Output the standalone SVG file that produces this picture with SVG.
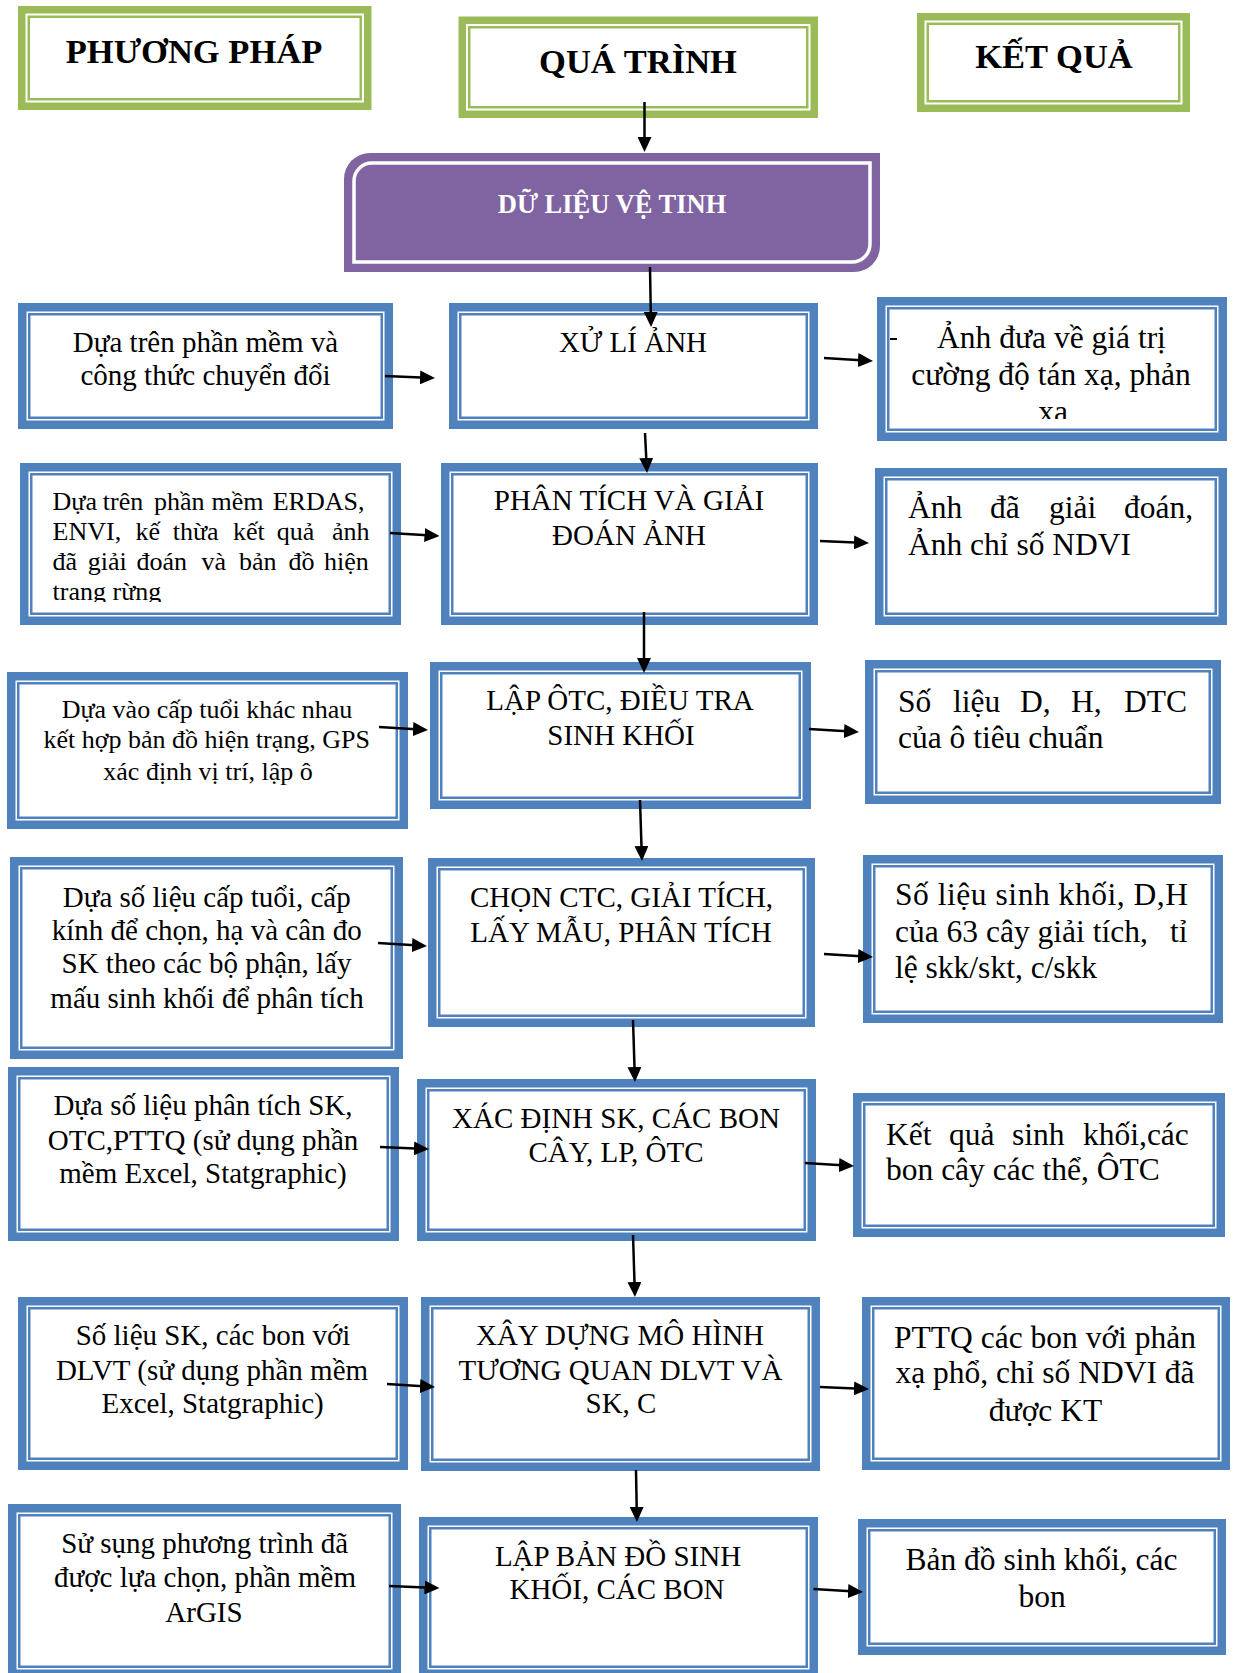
<svg xmlns="http://www.w3.org/2000/svg" width="1234" height="1673" viewBox="0 0 1234 1673">
<style>
.bo{fill:#fff;stroke:#4F81BD;stroke-width:8.5}
.bi{fill:none;stroke:#4F81BD;stroke-width:2.5}
.go{fill:#fff;stroke:#9BBB59;stroke-width:7.5}
.gi{fill:none;stroke:#9BBB59;stroke-width:2.5}
text{font-family:"Liberation Serif","Times New Roman",serif;fill:#000}
.m{font-size:29px;text-anchor:middle}
.s{font-size:26px}
.sc{font-size:26px;text-anchor:middle}
.r{font-size:31.5px}
.rc{font-size:31.5px;text-anchor:middle}
.h{font-size:34.5px;font-weight:bold;text-anchor:middle}
.p{font-size:26.5px;font-weight:bold;text-anchor:middle;fill:#fff}
.c{fill:none;stroke:#000;stroke-width:2.5;marker-end:url(#ah)}
</style>
<defs>
<marker id="ah" markerUnits="userSpaceOnUse" markerWidth="15" markerHeight="14" viewBox="0 0 15 14" refX="7" refY="7" orient="auto">
<path d="M0,0 L15,7 L0,14 Z" fill="#000"/>
</marker>
<clipPath id="c1"><rect x="877" y="297" width="350" height="122"/></clipPath>
<clipPath id="c2"><rect x="20" y="463" width="381" height="139"/></clipPath>
</defs>
<rect width="1234" height="1673" fill="#fff"/>

<!-- Headers -->
<g id="hdr-phuongphap">
<rect class="go" x="21.75" y="9.75" width="346" height="96.5"/>
<rect class="gi" x="28.75" y="16.75" width="332" height="82.5"/>
<text class="h" x="194" y="63">PHƯƠNG PHÁP</text>
</g>
<g id="hdr-quatrinh">
<rect class="go" x="462.25" y="20.25" width="352" height="94"/>
<rect class="gi" x="469.25" y="27.25" width="338" height="80"/>
<text class="h" x="638" y="73">QUÁ TRÌNH</text>
</g>
<g id="hdr-ketqua">
<rect class="go" x="920.75" y="16.75" width="265.5" height="91.5"/>
<rect class="gi" x="927.75" y="23.75" width="251.5" height="77.5"/>
<text class="h" x="1054" y="68">KẾT QUẢ</text>
</g>

<!-- Satellite data -->
<g id="dulieu">
<path d="M370,153 H880 V246 A26,26 0 0 1 854,272 H344 V179 A26,26 0 0 1 370,153 Z" fill="#8064A2"/>
<path d="M373,163 H870 V244 A18,18 0 0 1 852,262 H354 V181 A18,18 0 0 1 373,163 Z" fill="none" stroke="#fff" stroke-width="3.5"/>
<text class="p" x="612" y="213">DỮ LIỆU VỆ TINH</text>
</g>

<!-- Row 1 -->
<g id="r1-left">
<rect class="bo" x="22.25" y="307.25" width="366.5" height="117.5"/>
<rect class="bi" x="29.25" y="314.25" width="352.5" height="103.5"/>
<text class="m" x="205.5" y="352">Dựa trên phần mềm và</text>
<text class="m" x="205.5" y="385">công thức chuyển đổi</text>
</g>
<g id="r1-mid">
<rect class="bo" x="453.25" y="307.25" width="360.5" height="117.5"/>
<rect class="bi" x="460.25" y="314.25" width="346.5" height="103.5"/>
<text class="m" x="633" y="352">XỬ LÍ ẢNH</text>
</g>
<g id="r1-right">
<rect class="bo" x="881.25" y="301.25" width="341.5" height="135.5"/>
<rect class="bi" x="888.25" y="308.25" width="327.5" height="121.5"/>
<line x1="890" y1="339" x2="897" y2="339" stroke="#000" stroke-width="2"/>
<g clip-path="url(#c1)">
<text class="rc" x="1051.5" y="348">Ảnh đưa về giá trị</text>
<text class="rc" x="1051" y="385">cường độ tán xạ, phản</text>
<text class="rc" x="1053" y="422">xạ</text>
</g>
</g>

<!-- Row 2 -->
<g id="r2-left">
<rect class="bo" x="24.25" y="467.25" width="372.5" height="153.5"/>
<rect class="bi" x="31.25" y="474.25" width="358.5" height="139.5"/>
<g clip-path="url(#c2)">
<text class="s" y="510"><tspan x="52.6">Dựa</tspan><tspan x="102.8">trên</tspan><tspan x="154">phần</tspan><tspan x="211.5">mềm</tspan><tspan x="272.7">ERDAS,</tspan></text>
<text class="s" y="540"><tspan x="52.6">ENVI,</tspan><tspan x="135.6">kế</tspan><tspan x="172.7">thừa</tspan><tspan x="233">kết</tspan><tspan x="276.7">quả</tspan><tspan x="332">ảnh</tspan></text>
<text class="s" y="570"><tspan x="52.6">đã</tspan><tspan x="87.7">giải</tspan><tspan x="136.4">đoán</tspan><tspan x="201.6">và</tspan><tspan x="239">bản</tspan><tspan x="288.5">đồ</tspan><tspan x="324">hiện</tspan></text>
<text class="s" x="52.6" y="600">trang rừng</text>
</g>
</g>
<g id="r2-mid">
<rect class="bo" x="445.25" y="467.25" width="368.5" height="153.5"/>
<rect class="bi" x="452.25" y="474.25" width="354.5" height="139.5"/>
<text class="m" x="629" y="510">PHÂN TÍCH VÀ GIẢI</text>
<text class="m" x="629" y="545">ĐOÁN ẢNH</text>
</g>
<g id="r2-right">
<rect class="bo" x="879.25" y="472.25" width="343.5" height="148.5"/>
<rect class="bi" x="886.25" y="479.25" width="329.5" height="134.5"/>
<text class="r" y="518"><tspan x="908">Ảnh</tspan><tspan x="990">đã</tspan><tspan x="1049">giải</tspan><tspan x="1124">đoán,</tspan></text>
<text class="r" x="908" y="555">Ảnh chỉ số NDVI</text>
</g>

<!-- Row 3 -->
<g id="r3-left">
<rect class="bo" x="11.25" y="676.25" width="392.5" height="148.5"/>
<rect class="bi" x="18.25" y="683.25" width="378.5" height="134.5"/>
<text class="sc" x="207" y="718">Dựa vào cấp tuổi khác nhau</text>
<text class="sc" x="206.7" y="748">kết hợp bản đồ hiện trạng, GPS</text>
<text class="sc" x="208" y="780">xác định vị trí, lập ô</text>
</g>
<g id="r3-mid">
<rect class="bo" x="434.25" y="666.25" width="372.5" height="138.5"/>
<rect class="bi" x="441.25" y="673.25" width="358.5" height="124.5"/>
<text class="m" x="620" y="710">LẬP ÔTC, ĐIỀU TRA</text>
<text class="m" x="621" y="745">SINH KHỐI</text>
</g>
<g id="r3-right">
<rect class="bo" x="869.25" y="664.25" width="347.5" height="135.5"/>
<rect class="bi" x="876.25" y="671.25" width="333.5" height="121.5"/>
<text class="r" y="712"><tspan x="898">Số</tspan><tspan x="953">liệu</tspan><tspan x="1020">D,</tspan><tspan x="1071">H,</tspan><tspan x="1124">DTC</tspan></text>
<text class="r" x="898" y="748">của ô tiêu chuẩn</text>
</g>

<!-- Row 4 -->
<g id="r4-left">
<rect class="bo" x="14.25" y="861.25" width="384.5" height="193.5"/>
<rect class="bi" x="21.25" y="868.25" width="370.5" height="179.5"/>
<text class="m" x="206.7" y="907">Dựa số liệu cấp tuổi, cấp</text>
<text class="m" x="206.8" y="940">kính để chọn, hạ và cân đo</text>
<text class="m" x="206.5" y="973">SK theo các bộ phận, lấy</text>
<text class="m" x="207" y="1008">mấu sinh khối để phân tích</text>
</g>
<g id="r4-mid">
<rect class="bo" x="432.25" y="862.25" width="378.5" height="160.5"/>
<rect class="bi" x="439.25" y="869.25" width="364.5" height="146.5"/>
<text class="m" x="621.5" y="907">CHỌN CTC, GIẢI TÍCH,</text>
<text class="m" x="621" y="942">LẤY MẪU, PHÂN TÍCH</text>
</g>
<g id="r4-right">
<rect class="bo" x="867.25" y="859.25" width="351.5" height="159.5"/>
<rect class="bi" x="874.25" y="866.25" width="337.5" height="145.5"/>
<text class="r" x="895" y="905" textLength="293" lengthAdjust="spacing">Số liệu sinh khối, D,H</text>
<text class="r" y="942"><tspan x="895">của 63 cây giải tích,</tspan><tspan x="1170">tỉ</tspan></text>
<text class="r" x="895" y="978">lệ skk/skt, c/skk</text>
</g>

<!-- Row 5 -->
<g id="r5-left">
<rect class="bo" x="12.25" y="1071.25" width="382.5" height="165.5"/>
<rect class="bi" x="19.25" y="1078.25" width="368.5" height="151.5"/>
<text class="m" x="203" y="1115">Dựa số liệu phân tích SK,</text>
<text class="m" x="203" y="1150">OTC,PTTQ (sử dụng phần</text>
<text class="m" x="203" y="1183">mềm Excel, Statgraphic)</text>
</g>
<g id="r5-mid">
<rect class="bo" x="421.25" y="1083.25" width="390.5" height="153.5"/>
<rect class="bi" x="428.25" y="1090.25" width="376.5" height="139.5"/>
<text class="m" x="616" y="1128">XÁC ĐỊNH SK, CÁC BON</text>
<text class="m" x="616" y="1162">CÂY, LP, ÔTC</text>
</g>
<g id="r5-right">
<rect class="bo" x="857.25" y="1097.25" width="363.5" height="135.5"/>
<rect class="bi" x="864.25" y="1104.25" width="349.5" height="121.5"/>
<text class="r" y="1145"><tspan x="886">Kết</tspan><tspan x="949">quả</tspan><tspan x="1012">sinh</tspan><tspan x="1083">khối,các</tspan></text>
<text class="r" x="886" y="1180">bon cây các thể, ÔTC</text>
</g>

<!-- Row 6 -->
<g id="r6-left">
<rect class="bo" x="22.25" y="1301.25" width="381.5" height="164.5"/>
<rect class="bi" x="29.25" y="1308.25" width="367.5" height="150.5"/>
<text class="m" x="213" y="1345">Số liệu SK, các bon với</text>
<text class="m" x="212" y="1380">DLVT (sử dụng phần mềm</text>
<text class="m" x="212.6" y="1413">Excel, Statgraphic)</text>
</g>
<g id="r6-mid">
<rect class="bo" x="425.25" y="1301.25" width="390.5" height="165.5"/>
<rect class="bi" x="432.25" y="1308.25" width="376.5" height="151.5"/>
<text class="m" x="620" y="1345">XÂY DỰNG MÔ HÌNH</text>
<text class="m" x="620.5" y="1380">TƯƠNG QUAN DLVT VÀ</text>
<text class="m" x="621" y="1413">SK, C</text>
</g>
<g id="r6-right">
<rect class="bo" x="866.25" y="1301.25" width="359.5" height="164.5"/>
<rect class="bi" x="873.25" y="1308.25" width="345.5" height="150.5"/>
<text class="rc" x="1045" y="1348">PTTQ các bon với phản</text>
<text class="rc" x="1045" y="1383">xạ phổ, chỉ số NDVI đã</text>
<text class="rc" x="1045.5" y="1421">được KT</text>
</g>

<!-- Row 7 -->
<g id="r7-left">
<rect class="bo" x="12.25" y="1508.25" width="384.5" height="165.5"/>
<rect class="bi" x="19.25" y="1515.25" width="370.5" height="151.5"/>
<text class="m" x="204.6" y="1553">Sử sụng phương trình đã</text>
<text class="m" x="205" y="1587">được lựa chọn, phần mềm</text>
<text class="m" x="204" y="1622">ArGIS</text>
</g>
<g id="r7-mid">
<rect class="bo" x="423.25" y="1521.25" width="390.5" height="152.5"/>
<rect class="bi" x="430.25" y="1528.25" width="376.5" height="138.5"/>
<text class="m" x="618" y="1566">LẬP BẢN ĐỒ SINH</text>
<text class="m" x="617" y="1599">KHỐI, CÁC BON</text>
</g>
<g id="r7-right">
<rect class="bo" x="862.25" y="1523.25" width="359.5" height="127.5"/>
<rect class="bi" x="869.25" y="1530.25" width="345.5" height="113.5"/>
<text class="rc" x="1041.5" y="1570">Bản đồ sinh khối, các</text>
<text class="rc" x="1042" y="1607">bon</text>
</g>

<!-- Connectors -->
<g id="connectors">
<line class="c" x1="644.5" y1="102" x2="644.5" y2="144"/>
<line class="c" x1="650" y1="267" x2="650.9" y2="319"/>
<line class="c" x1="645" y1="433" x2="646.6" y2="465"/>
<line class="c" x1="644" y1="612" x2="644" y2="665"/>
<line class="c" x1="640" y1="800" x2="641.7" y2="853"/>
<line class="c" x1="633" y1="1020" x2="634.7" y2="1074"/>
<line class="c" x1="633" y1="1235" x2="634.7" y2="1289"/>
<line class="c" x1="636" y1="1470" x2="636.8" y2="1514"/>
<line class="c" x1="385" y1="376" x2="427" y2="377.7"/>
<line class="c" x1="824" y1="358" x2="865" y2="360.5"/>
<line class="c" x1="390" y1="533" x2="431.5" y2="535.5"/>
<line class="c" x1="820" y1="541" x2="861" y2="542.7"/>
<line class="c" x1="379" y1="727" x2="420" y2="729.5"/>
<line class="c" x1="809" y1="729" x2="851" y2="731.5"/>
<line class="c" x1="378" y1="943" x2="419" y2="945.5"/>
<line class="c" x1="824" y1="954" x2="865" y2="956.5"/>
<line class="c" x1="380" y1="1147" x2="421" y2="1148.7"/>
<line class="c" x1="805" y1="1163" x2="846" y2="1165.5"/>
<line class="c" x1="387" y1="1384" x2="427" y2="1386.5"/>
<line class="c" x1="820" y1="1387" x2="861" y2="1388.7"/>
<line class="c" x1="389" y1="1586" x2="431.5" y2="1587.7"/>
<line class="c" x1="813.5" y1="1589" x2="855" y2="1591.5"/>
</g>
</svg>
